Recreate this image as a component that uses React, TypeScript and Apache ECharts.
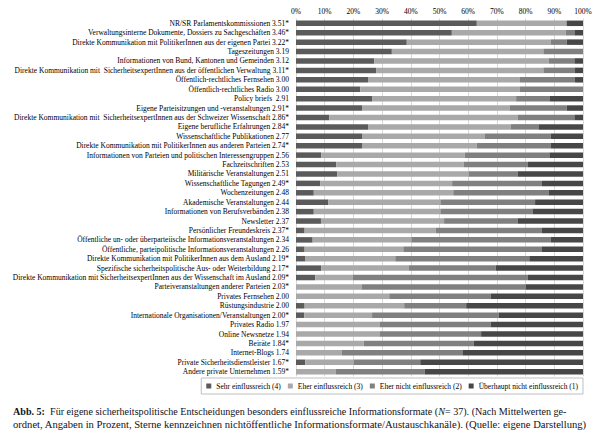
import React, { useEffect, useRef } from "react";
import * as echarts from "echarts";

const categories = [
  "NR/SR Parlamentskommissionen 3.51*",
  "Verwaltungsinterne Dokumente, Dossiers zu Sachgeschäften 3.46*",
  "Direkte Kommunikation mit PolitikerInnen aus der eigenen Partei 3.22*",
  "Tageszeitungen 3.19",
  "Informationen von Bund, Kantonen und Gemeinden 3.12",
  "Direkte Kommunikation mit  SicherheitsexpertInnen aus der öffentlichen Verwaltung 3.11*",
  "Öffentlich-rechtliches Fernsehen 3.00",
  "Öffentlich-rechtliches Radio 3.00",
  "Policy briefs  2.91",
  "Eigene Parteisitzungen und -veranstaltungen 2.91*",
  "Direkte Kommunikation mit  SicherheitsexpertInnen aus der Schweizer Wissenschaft 2.86*",
  "Eigene berufliche Erfahrungen 2.84*",
  "Wissenschaftliche Publikationen 2.77",
  "Direkte Kommunikation mit PolitikerInnen aus anderen Parteien 2.74*",
  "Informationen von Parteien und politischen Interessengruppen 2.56",
  "Fachzeitschriften 2.53",
  "Militärische Veranstaltungen 2.51",
  "Wissenschaftliche Tagungen 2.49*",
  "Wochenzeitungen 2.48",
  "Akademische Veranstaltungen 2.44",
  "Informationen von Berufsverbänden 2.38",
  "Newsletter 2.37",
  "Persönlicher Freundeskreis 2.37*",
  "Öffentliche un- oder überparteiische Informationsveranstaltungen 2.34",
  "Öffentliche, parteipolitische Informationsveranstaltungen 2.26",
  "Direkte Kommunikation mit PolitikerInnen aus dem Ausland 2.19*",
  "Spezifische sicherheitspolitische Aus- oder Weiterbildung 2.17*",
  "Direkte Kommunikation mit SicherheitsexpertInnen aus der Wissenschaft im Ausland 2.09*",
  "Parteiveranstaltungen anderer Parteien 2.03*",
  "Privates Fernsehen 2.00",
  "Rüstungsindustrie 2.00",
  "Internationale Organisationen/Veranstaltungen 2.00*",
  "Privates Radio 1.97",
  "Online Newsnetze 1.94",
  "Beiräte 1.84*",
  "Internet-Blogs 1.74",
  "Private Sicherheitsdienstleister 1.67*",
  "Andere private Unternehmen 1.59*",
];

const seriesNames = [
  "Sehr einflussreich (4)",
  "Eher einflussreich (3)",
  "Eher nicht einflussreich (2)",
  "Überhaupt nicht einflussreich (1)",
];

const sehr = [63.0, 54.3, 38.6, 33.4, 27.3, 27.9, 25.1, 22.4, 26.5, 23.0, 11.6, 25.1, 23.0, 23.0, 8.8, 14.0, 14.4, 8.5, 6.2, 11.2, 6.2, 8.7, 3.0, 5.8, 3.0, 3.3, 8.8, 6.7, 0, 0, 3.0, 2.9, 0, 0, 0, 0, 3.2, 0];
const eher = [31.3, 39.7, 50.2, 52.8, 60.7, 58.3, 52.8, 55.5, 50.2, 51.4, 65.6, 49.8, 42.7, 40.0, 50.0, 44.4, 45.8, 45.9, 48.6, 39.1, 44.1, 42.9, 45.7, 34.4, 34.4, 31.3, 30.4, 13.0, 23.0, 32.5, 34.7, 23.6, 29.1, 29.1, 23.6, 16.0, 16.9, 13.9];
const eherNicht = [0, 3.0, 5.5, 13.8, 9.0, 11.0, 19.3, 22.1, 11.8, 19.9, 19.8, 9.6, 23.1, 25.8, 29.5, 22.4, 17.0, 31.3, 33.2, 33.0, 32.1, 25.6, 37.0, 48.6, 48.3, 46.7, 30.4, 61.1, 57.1, 35.4, 21.6, 44.1, 38.8, 35.4, 38.3, 42.0, 23.2, 31.0];
const ueberhaupt = [5.7, 3.0, 5.7, 0, 3.0, 2.8, 2.8, 0, 11.5, 5.7, 3.0, 15.5, 11.2, 11.2, 11.7, 19.2, 22.8, 14.3, 12.0, 16.7, 17.6, 22.8, 14.3, 11.2, 14.3, 18.7, 30.4, 19.2, 19.9, 32.1, 40.7, 29.4, 32.1, 35.5, 38.1, 42.0, 56.7, 55.1];

const colors = ["#5b5b5b", "#a9a9a9", "#808080", "#474747"];

const captionLine1 =
  "{b|Abb. 5:}  Für eigene sicherheitspolitische Entscheidungen besonders einflussreiche Informationsformate ({i|N}= 37). (Nach Mittelwerten ge-";
const captionLine2 =
  "ordnet, Angaben in Prozent, Sterne kennzeichnen nichtöffentliche Informationsformate/Austauschkanäle). (Quelle: eigene Darstellung)";

const FONT = "Liberation Serif";

export default function App() {
  const ref = useRef<HTMLDivElement>(null);
  useEffect(() => {
    if (!ref.current) return;
    const chart = echarts.init(ref.current, undefined, { renderer: "svg" });
    const values = [sehr, eher, eherNicht, ueberhaupt];
    chart.setOption({
      animation: false,
      backgroundColor: "#ffffff",
      textStyle: { fontFamily: FONT },
      grid: { left: 296, right: 18, top: 18.6, bottom: 66.6, containLabel: false },
      xAxis: {
        type: "value",
        position: "top",
        min: 0,
        max: 100,
        interval: 10,
        axisLabel: {
          formatter: "{value}%",
          fontSize: 7.5,
          color: "#000",
          fontFamily: FONT,
          margin: 3,
        },
        axisLine: { show: false },
        axisTick: { show: false },
        splitLine: { show: true, lineStyle: { color: "#d9d9d9", width: 1 } },
      },
      yAxis: {
        type: "category",
        inverse: true,
        data: categories,
        axisLabel: {
          fontSize: 7.5,
          color: "#000",
          fontFamily: FONT,
          margin: 7,
          interval: 0,
        },
        axisLine: { show: false },
        axisTick: { show: false },
      },
      legend: {
        right: 18,
        top: 378,
        orient: "horizontal",
        icon: "rect",
        itemWidth: 5,
        itemHeight: 5,
        itemGap: 7,
        padding: [4, 5, 4, 5],
        borderColor: "#bfbfbf",
        borderWidth: 1,
        textStyle: { fontSize: 7.5, color: "#000", fontFamily: FONT },
        data: seriesNames,
      },
      series: seriesNames.map((name, i) => ({
        name,
        type: "bar",
        stack: "total",
        barWidth: 5.5,
        itemStyle: { color: colors[i] },
        data: values[i],
      })),
      graphic: [
        {
          type: "text",
          left: 13,
          top: 406,
          style: {
            text: captionLine1,
            fontSize: 10.1,
            fontFamily: FONT,
            fill: "#111122",
            rich: {
              b: { fontWeight: "bold", fontSize: 10.1, fontFamily: FONT, fill: "#111122" },
              i: { fontStyle: "italic", fontSize: 10.1, fontFamily: FONT, fill: "#111122" },
            },
          },
        },
        {
          type: "text",
          left: 13,
          top: 418.5,
          style: {
            text: captionLine2,
            fontSize: 10.6,
            fontFamily: FONT,
            fill: "#111122",
          },
        },
      ],
    });
    return () => chart.dispose();
  }, []);
  return (
    <div
      ref={ref}
      style={{ position: "fixed", left: 0, top: 0, width: 601, height: 443 }}
    />
  );
}
